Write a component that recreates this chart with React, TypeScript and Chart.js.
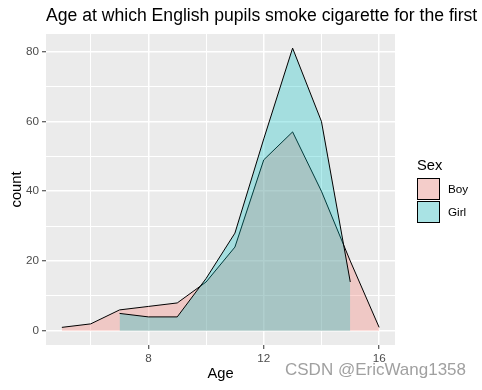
import React, { useEffect, useRef } from "react";
import { Chart, registerables } from "chart.js";

Chart.register(...registerables);

// ---- data ----
const boyAges = [5, 6, 7, 8, 9, 10, 11, 12, 13, 14, 15, 16];
const boyCounts = [1, 2, 6, 7, 8, 14, 24, 49, 57, 40, 20, 1];
const girlAges = [7, 8, 9, 10, 11, 12, 13, 14, 15];
const girlCounts = [5, 4, 4, 15, 28, 55, 81, 60, 14];
const xTicks = [6, 8, 10, 12, 14, 16];
const xMajor = [8, 12, 16];
const yTicks = [0, 10, 20, 30, 40, 50, 60, 70, 80];
const yMajor = [0, 20, 40, 60, 80];
const seriesNames = ["Boy", "Girl"];
const chartTitle = "Age at which English pupils smoke cigarette for the first time";
const xTitle = "Age";
const yTitle = "count";
const legendTitle = "Sex";
const watermark = "CSDN @EricWang1358";

const FONT = '"Liberation Sans", Arial, sans-serif';
const BOY_FILL = "rgba(248,118,109,0.3)";
const GIRL_FILL = "rgba(0,191,196,0.3)";

export default function App() {
  const ref = useRef<HTMLCanvasElement>(null);

  useEffect(() => {
    if (!ref.current) return;

    const panelBg = {
      id: "panelBg",
      beforeDraw(chart: any) {
        const { ctx, chartArea: a } = chart;
        ctx.save();
        ctx.fillStyle = "#FFFFFF";
        ctx.fillRect(0, 0, chart.width, chart.height);
        ctx.fillStyle = "#EBEBEB";
        ctx.fillRect(a.left, a.top, a.right - a.left, a.bottom - a.top);
        ctx.restore();
      },
    };

    const decor = {
      id: "decor",
      afterDraw(chart: any) {
        const { ctx, chartArea: a } = chart;
        ctx.save();
        // title
        ctx.fillStyle = "#000";
        ctx.textAlign = "left";
        ctx.textBaseline = "alphabetic";
        ctx.font = `17.6px ${FONT}`;
        ctx.fillText(chartTitle, 46, 21);
        // x title
        ctx.font = `14.7px ${FONT}`;
        ctx.textAlign = "center";
        ctx.fillText(xTitle, (a.left + a.right) / 2, 378);
        // y title
        ctx.save();
        ctx.translate(20.5, (a.top + a.bottom) / 2);
        ctx.rotate(-Math.PI / 2);
        ctx.fillText(yTitle, 0, 0);
        ctx.restore();
        // legend
        ctx.textAlign = "left";
        ctx.font = `14.7px ${FONT}`;
        ctx.fillText(legendTitle, 417, 170);
        const fills = [BOY_FILL, GIRL_FILL];
        const ys = [178.5, 201.5];
        ctx.font = `11.7px ${FONT}`;
        ctx.textBaseline = "middle";
        seriesNames.forEach((name, i) => {
          ctx.fillStyle = "#F2F2F2";
          ctx.fillRect(417.5, ys[i], 22, 21);
          ctx.fillStyle = fills[i];
          ctx.fillRect(417.5, ys[i], 22, 21);
          ctx.strokeStyle = "#000";
          ctx.lineWidth = 1;
          ctx.strokeRect(417.5, ys[i], 22, 21);
          ctx.fillStyle = "#000";
          ctx.fillText(name, 448, ys[i] + 11);
        });
        // watermark
        ctx.textBaseline = "alphabetic";
        ctx.font = `17px ${FONT}`;
        ctx.fillStyle = "#A0A0A0";
        ctx.fillText(watermark, 285, 375);
        ctx.restore();
      },
    };

    const chart = new Chart(ref.current, {
      type: "line",
      data: {
        datasets: [
          {
            label: seriesNames[1],
            data: girlAges.map((x, i) => ({ x, y: girlCounts[i] })),
            fill: "origin",
            backgroundColor: GIRL_FILL,
            borderColor: "#000",
            borderWidth: 1,
            pointRadius: 0,
            tension: 0,
          },
          {
            label: seriesNames[0],
            data: boyAges.map((x, i) => ({ x, y: boyCounts[i] })),
            fill: "origin",
            backgroundColor: BOY_FILL,
            borderColor: "#000",
            borderWidth: 1,
            pointRadius: 0,
            tension: 0,
          },
        ],
      },
      options: {
        animation: false,
        responsive: false,
        devicePixelRatio: 1,
        layout: { padding: { top: 34, right: 87, left: 0, bottom: 0 } },
        plugins: {
          legend: { display: false },
          title: { display: false },
          tooltip: { enabled: false },
        },
        scales: {
          x: {
            type: "linear",
            min: 4.45,
            max: 16.55,
            afterBuildTicks: (s: any) => {
              s.ticks = xTicks.map((v) => ({ value: v }));
            },
            afterFit: (s: any) => {
              s.height = 45;
            },
            ticks: {
              autoSkip: false,
              maxRotation: 0,
              padding: 3,
              color: "#4D4D4D",
              font: { family: FONT, size: 11.7 },
              callback: (v: any) => (xMajor.includes(Number(v)) ? String(v) : ""),
            },
            grid: {
              color: "#FFFFFF",
              lineWidth: (c: any) => (c.tick && xMajor.includes(c.tick.value) ? 1.5 : 1),
              tickColor: (c: any) =>
                c.tick && xMajor.includes(c.tick.value) ? "#333333" : "rgba(0,0,0,0)",
              tickLength: 4,
              tickWidth: 1,
            },
            border: { display: false },
          },
          y: {
            type: "linear",
            min: -4.05,
            max: 85.05,
            afterBuildTicks: (s: any) => {
              s.ticks = yTicks.map((v) => ({ value: v }));
            },
            afterFit: (s: any) => {
              s.width = 46;
            },
            ticks: {
              autoSkip: false,
              padding: 3,
              color: "#4D4D4D",
              font: { family: FONT, size: 11.7 },
              callback: (v: any) => (yMajor.includes(Number(v)) ? String(v) : ""),
            },
            grid: {
              color: "#FFFFFF",
              lineWidth: (c: any) => (c.tick && yMajor.includes(c.tick.value) ? 1.5 : 1),
              tickColor: (c: any) =>
                c.tick && yMajor.includes(c.tick.value) ? "#333333" : "rgba(0,0,0,0)",
              tickLength: 4,
              tickWidth: 1,
            },
            border: { display: false },
          },
        },
      },
      plugins: [panelBg, decor],
    });

    return () => chart.destroy();
  }, []);

  return (
    <div style={{ position: "fixed", left: 0, top: 0, width: 482, height: 390, background: "#fff" }}>
      <canvas ref={ref} width={482} height={390} style={{ width: 482, height: 390, display: "block" }} />
    </div>
  );
}
